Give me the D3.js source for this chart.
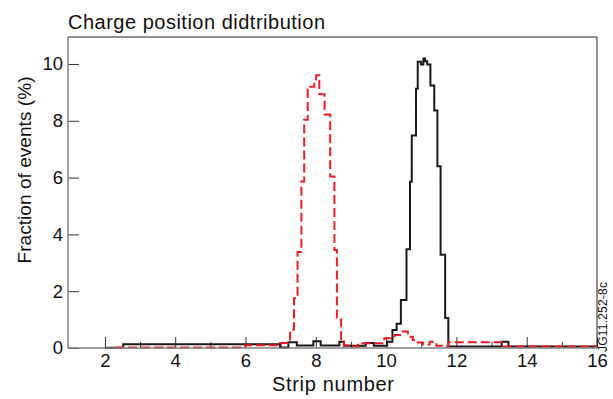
<!DOCTYPE html>
<html>
<head>
<meta charset="utf-8">
<script src="https://cdn.jsdelivr.net/npm/d3@7"></script>
<style>
  html, body { margin: 0; padding: 0; background: #fff; }
  svg { display: block; font-family: "Liberation Sans", Arial, Helvetica, sans-serif; }
</style>
</head>
<body>
<svg id="chart" width="613" height="399"></svg>
<script>
// ---- data ----
const title = "Charge position didtribution";
const xLabel = "Strip number";
const yLabel = "Fraction of events (%)";
const tag = "JG11.252-8c";

const xMajorTicks = [2, 4, 6, 8, 10, 12, 14, 16];
const xMinorTicks = [3, 5, 7, 9, 11, 13, 15];
const yTicks = [0, 2, 4, 6, 8, 10];

// black (solid) histogram: bin edges and values (%)
const blackEdges = [2.0, 2.52, 6.98, 7.22, 7.46, 7.93, 8.14, 8.67, 8.80, 9.42, 9.65, 10.03, 10.18, 10.30, 10.42, 10.58, 10.68, 10.73, 10.85, 10.90, 10.99, 11.06, 11.11, 11.17, 11.26, 11.37, 11.46, 11.55, 11.68, 11.77, 13.29, 13.48, 16.0];
const blackValues = [0.01, 0.13, 0.02, 0.2, 0.09, 0.24, 0.09, 0.22, 0.08, 0.18, 0.08, 0.22, 0.63, 0.85, 1.69, 3.48, 5.85, 7.48, 9.13, 10.08, 9.98, 10.19, 10.1, 9.98, 9.24, 8.36, 6.4, 3.28, 1.06, 0.05, 0.22, 0.05];

// red (dashed) histogram: bin edges and values (%)
const redEdges = [2.29, 5.99, 6.98, 7.27, 7.38, 7.48, 7.59, 7.67, 7.77, 7.84, 7.96, 8.01, 8.10, 8.25, 8.41, 8.53, 8.60, 8.72, 8.80, 8.97, 9.2, 9.95, 10.24, 10.43, 10.62, 10.76, 10.9, 11.05, 11.24, 11.43, 11.67, 11.77, 13.32, 16.0];
const redValues = [0.02, 0.1, 0.18, 0.65, 1.75, 3.38, 5.86, 8.04, 9.1, 9.2, 9.45, 9.6, 8.93, 8.22, 6.04, 3.45, 1.0, 0.22, 0.1, 0.05, 0.17, 0.34, 0.46, 0.58, 0.4, 0.28, 0.19, 0.12, 0.22, 0.08, 0.05, 0.2, 0.05];

// ---- layout ----
const L = 68, R = 597, T = 37, B = 348;
const svg = d3.select("#chart");

const x = d3.scaleLinear().domain([0.95, 16]).range([L, R]);
const y = d3.scaleLinear().domain([0, 10.95]).range([B, T]);

function stepPoints(edges, values) {
  const pts = values.map((v, i) => [edges[i], v]);
  pts.push([edges[edges.length - 1], values[values.length - 1]]);
  return pts;
}
const line = d3.line().x(d => x(d[0])).y(d => y(d[1])).curve(d3.curveStepAfter);

// frame: top & right black, left & bottom gray
svg.append("line").attr("x1", L).attr("x2", R).attr("y1", T).attr("y2", T)
  .attr("stroke", "#222").attr("stroke-width", 1);
svg.append("line").attr("x1", R).attr("x2", R).attr("y1", T).attr("y2", B)
  .attr("stroke", "#222").attr("stroke-width", 1);

// x axis
const xAxis = svg.append("g").attr("transform", `translate(0,${B})`)
  .call(d3.axisBottom(x).tickValues(xMajorTicks).tickSize(-11).tickPadding(6).tickFormat(d3.format("d")));
xAxis.select(".domain").remove();
xAxis.selectAll(".tick line").attr("stroke", "#333").attr("stroke-width", 1);
xAxis.selectAll(".tick text").attr("font-size", 18.5).attr("fill", "#111")
  .attr("font-family", "Liberation Sans, Arial, sans-serif");

const xMinor = svg.append("g").attr("transform", `translate(0,${B})`)
  .call(d3.axisBottom(x).tickValues(xMinorTicks).tickSize(-6).tickFormat(""));
xMinor.select(".domain").remove();
xMinor.selectAll(".tick line").attr("stroke", "#333").attr("stroke-width", 1);

// y axis
const yAxis = svg.append("g").attr("transform", `translate(${L},0)`)
  .call(d3.axisLeft(y).tickValues(yTicks).tickSize(-11).tickPadding(5).tickFormat(d3.format("d")));
yAxis.select(".domain").remove();
yAxis.selectAll(".tick line").attr("stroke", "#333").attr("stroke-width", 1);
yAxis.selectAll(".tick text").attr("font-size", 18.5).attr("fill", "#111")
  .attr("font-family", "Liberation Sans, Arial, sans-serif");

// series
svg.append("path").datum(stepPoints(blackEdges, blackValues))
  .attr("d", line).attr("fill", "none").attr("stroke", "#1a1a1a")
  .attr("stroke-width", 2).attr("stroke-linejoin", "miter");
svg.append("path").datum(stepPoints(redEdges, redValues))
  .attr("d", line).attr("fill", "none").attr("stroke", "#ec1c24")
  .attr("stroke-width", 2).attr("stroke-dasharray", "9,4");

// left & bottom gray axis lines
svg.append("line").attr("x1", L).attr("x2", L).attr("y1", T).attr("y2", B)
  .attr("stroke", "#7f7f7f").attr("stroke-width", 1.5);
svg.append("line").attr("x1", L).attr("x2", R).attr("y1", B).attr("y2", B)
  .attr("stroke", "#7f7f7f").attr("stroke-width", 1.5);

// texts
svg.append("text").attr("x", L).attr("y", 29).attr("font-size", 20).attr("fill", "#111")
  .attr("textLength", 257).attr("lengthAdjust", "spacing").text(title);
svg.append("text").attr("x", 333).attr("y", 391).attr("text-anchor", "middle")
  .attr("font-size", 20).attr("fill", "#111")
  .attr("textLength", 122).attr("lengthAdjust", "spacing").text(xLabel);
svg.append("text").attr("transform", `translate(31,170) rotate(-90)`)
  .attr("text-anchor", "middle").attr("font-size", 19).attr("fill", "#111")
  .attr("textLength", 187).attr("lengthAdjust", "spacing").text(yLabel);
svg.append("text").attr("transform", `translate(607,352) rotate(-90)`)
  .attr("text-anchor", "start").attr("font-size", 12).attr("fill", "#111")
  .attr("textLength", 70).attr("lengthAdjust", "spacing").text(tag);
</script>
</body>
</html>
